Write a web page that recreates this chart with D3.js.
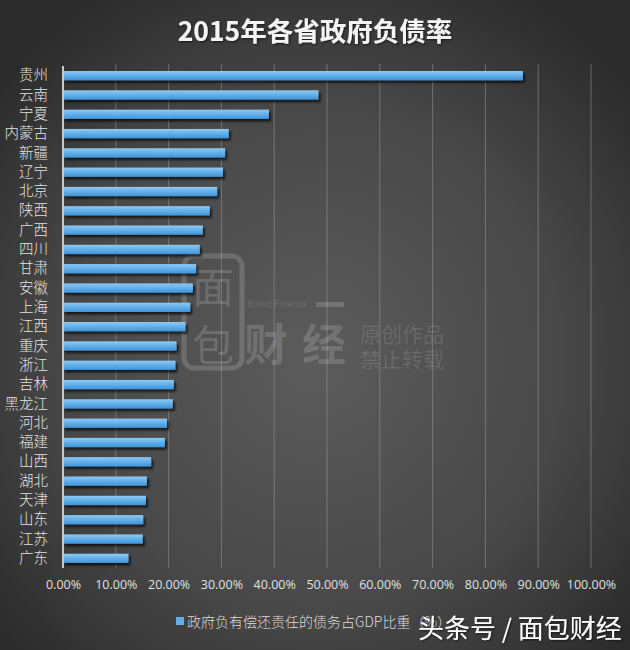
<!DOCTYPE html>
<html><head><meta charset="utf-8">
<script src="https://cdn.jsdelivr.net/npm/d3@7"></script>
<style>html,body{margin:0;padding:0;background:#333;}svg{display:block;}</style>
</head><body>
<script>
const provinces = ["贵州","云南","宁夏","内蒙古","新疆","辽宁","北京","陕西","广西","四川","甘肃","安徽","上海","江西","重庆","浙江","吉林","黑龙江","河北","福建","山西","湖北","天津","山东","江苏","广东"];
const debtRatio = [87.1,48.4,39.0,31.4,30.7,30.3,29.2,27.8,26.5,25.9,25.2,24.6,24.1,23.2,21.5,21.3,21.0,20.8,19.7,19.3,16.7,15.9,15.7,15.2,15.1,12.4];
const xTicks = [0,10,20,30,40,50,60,70,80,90,100];
const title = "2015年各省政府负债率";
const seriesName = "政府负有偿还责任的债务占GDP比重（%）";

const W = 630, H = 650;
const svg = d3.select("body").append("svg").attr("width", W).attr("height", H);
const defs = svg.append("defs");
const bg = defs.append("radialGradient").attr("id","bg").attr("cx","50%").attr("cy","55%").attr("r","65%");
bg.append("stop").attr("offset","0%").attr("stop-color","#5c5c5c");
bg.append("stop").attr("offset","60%").attr("stop-color","#484848");
bg.append("stop").attr("offset","100%").attr("stop-color","#2c2c2c");
const bar = defs.append("linearGradient").attr("id","bar").attr("x1",0).attr("y1",0).attr("x2",0).attr("y2",1);
bar.append("stop").attr("offset","0%").attr("stop-color","#8fcaf3");
bar.append("stop").attr("offset","50%").attr("stop-color","#62afea");
bar.append("stop").attr("offset","100%").attr("stop-color","#4294d6");
const sh = defs.append("filter").attr("id","sh").attr("x","-5%").attr("y","-50%").attr("width","115%").attr("height","250%");
sh.append("feDropShadow").attr("dx",2).attr("dy",2.5).attr("stdDeviation",1.3).attr("flood-color","#000").attr("flood-opacity",0.7);
const tsh = defs.append("filter").attr("id","tsh");
tsh.append("feDropShadow").attr("dx",1).attr("dy",1).attr("stdDeviation",0.8).attr("flood-color","#000").attr("flood-opacity",0.6);

svg.append("rect").attr("width",W).attr("height",H).attr("fill","url(#bg)");

// title
svg.append("text").attr("x",315).attr("y",41).attr("text-anchor","middle")
  .attr("font-family","'Noto Sans CJK SC','Open Sans',sans-serif").attr("font-weight","bold")
  .attr("font-size",26.5).attr("fill","#f4f4f4").attr("filter","url(#tsh)").text(title);

const x = d3.scaleLinear().domain([0,100]).range([63,591]);
const y = d3.scaleBand().domain(provinces).range([66,568]).paddingInner(0.52).paddingOuter(0.26);

// gridlines
svg.append("g").selectAll("line").data(xTicks.slice(1)).join("line")
  .attr("x1",d=>x(d)).attr("x2",d=>x(d)).attr("y1",64).attr("y2",568)
  .attr("stroke","#a0a0a0").attr("stroke-opacity",0.5).attr("stroke-width",1);

// watermark logo (center)
const wm = svg.append("g").attr("fill","#ffffff").attr("fill-opacity",0.16).attr("font-family","'Noto Sans CJK SC',sans-serif");
wm.append("rect").attr("x",184).attr("y",256).attr("width",58).attr("height",112).attr("rx",10)
  .attr("fill","none").attr("stroke","#fff").attr("stroke-opacity",0.16).attr("stroke-width",5);
wm.append("text").attr("x",213).attr("y",303).attr("text-anchor","middle").attr("font-size",42).text("面");
wm.append("text").attr("x",213).attr("y",361).attr("text-anchor","middle").attr("font-size",42).text("包");
wm.append("text").attr("x",247).attr("y",307).attr("font-size",9).attr("font-family","'Open Sans',sans-serif").text("Bread Finance");
wm.append("rect").attr("x",316).attr("y",302).attr("width",28).attr("height",5);
wm.append("text").attr("x",244).attr("y",361).attr("font-size",44).attr("font-weight","bold").attr("textLength",102).text("财经");
wm.append("text").attr("x",360).attr("y",342).attr("font-size",21).attr("fill-opacity",0.13).text("原创作品");
wm.append("text").attr("x",360).attr("y",367).attr("font-size",21).attr("fill-opacity",0.13).text("禁止转载");

// bars
svg.append("g").selectAll("rect").data(provinces).join("rect")
  .attr("x",x(0)).attr("y",d=>y(d)).attr("height",y.bandwidth())
  .attr("width",(d,i)=>x(debtRatio[i])-x(0))
  .attr("fill","url(#bar)").attr("filter","url(#sh)");

// axis line
svg.append("line").attr("x1",x(0)).attr("x2",x(0)).attr("y1",66).attr("y2",568)
  .attr("stroke","#c8c8c8").attr("stroke-width",2);

// y labels
const yAxis = d3.axisLeft(y).tickSize(0).tickPadding(15);
const ga = svg.append("g").attr("transform",`translate(${x(0)},0)`).call(yAxis);
ga.select(".domain").remove();
ga.selectAll("text").attr("font-family","'Noto Sans CJK SC',sans-serif").attr("font-size",14.5)
  .attr("font-weight",300).attr("fill","#e2e2e2");

// x labels
const xAxis = d3.axisBottom(x).tickValues(xTicks).tickSize(0).tickPadding(0).tickFormat(d=>d.toFixed(2)+"%");
const gx = svg.append("g").attr("transform","translate(0,580)").call(xAxis);
gx.select(".domain").remove();
gx.selectAll("text").attr("font-family","'Open Sans',sans-serif").attr("font-size",12.5).attr("fill","#e0e0e0").attr("dy","0.71em");

// legend
svg.append("rect").attr("x",176).attr("y",617).attr("width",8).attr("height",8).attr("fill","#62afea");
svg.append("text").attr("x",187).attr("y",627).attr("font-family","'Noto Sans CJK SC',sans-serif")
  .attr("font-size",14).attr("font-weight",300).attr("fill","#dcdcdc").text(seriesName);

// corner watermark
svg.append("text").attr("x",418).attr("y",638).attr("font-family","'Noto Sans CJK SC',sans-serif")
  .attr("font-size",26).attr("fill","#ffffff").attr("filter","url(#tsh)").text("头条号 / 面包财经");
</script>
</body></html>
